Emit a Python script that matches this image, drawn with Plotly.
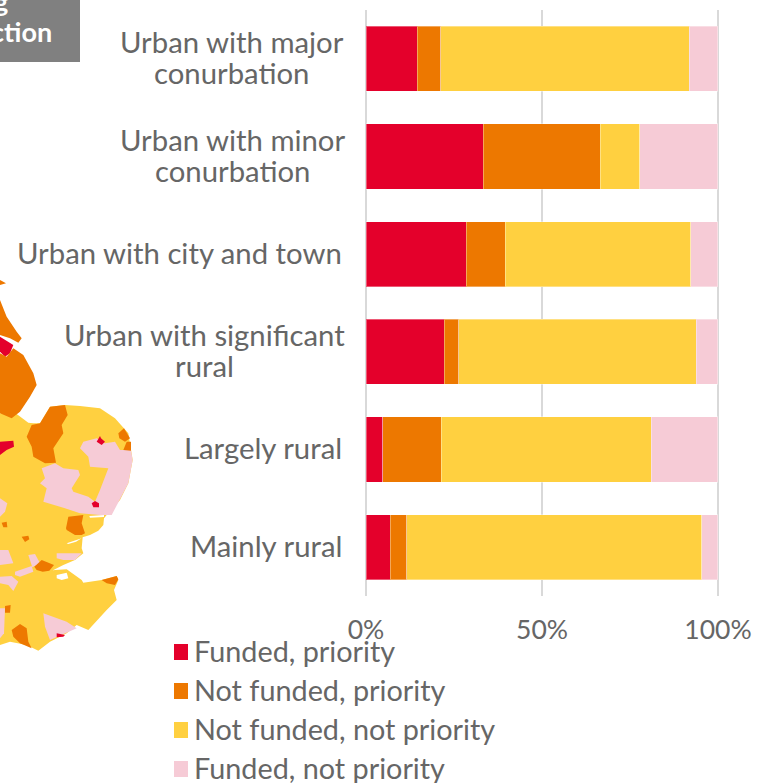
import plotly.graph_objects as go

categories = ["Urban with major conurbation", "Urban with minor conurbation", "Urban with city and town",
              "Urban with significant rural", "Largely rural", "Mainly rural"]
category_lines = [["Urban with major", "conurbation"], ["Urban with minor", "conurbation"], ["Urban with city and town"],
                  ["Urban with significant", "rural"], ["Largely rural"], ["Mainly rural"]]
funded_priority = [14.5, 33.3, 28.5, 22.2, 4.7, 6.9]
not_funded_priority = [6.8, 33.3, 11.0, 4.2, 16.7, 4.7]
not_funded_not_priority = [70.5, 11.1, 52.8, 67.4, 59.6, 83.8]
funded_not_priority = [8.2, 22.3, 7.7, 6.2, 19.0, 4.6]
series_names = ["Funded, priority", "Not funded, priority", "Not funded, not priority", "Funded, not priority"]
tick_values = [0, 50, 100]
tick_labels = ["0%", "50%", "100%"]

RED, ORANGE, YELLOW, PINK = "#E4002B", "#ED7800", "#FFD040", "#F6CBD6"
TEXT = "#666666"
FONT = "Lato"

# Map regions (approximate outlines, in map units)
map_regions = [
    (YELLOW, [(0,430),(50,432),(85,458),(100,460),(120,460),(150,410),(195,405),(240,408),(300,415),(345,445),(385,490),(393,540),(398,570),(385,640),(360,690),(320,735),(312,745),(310,765),(295,782),(270,795),(248,802),(245,835),(250,850),(225,870),(190,885),(150,905),(130,906),(165,900),(200,898),(245,930),(250,938),(305,930),(350,918),(355,930),(342,960),(350,990),(320,1020),(265,1080),(230,1065),(200,1090),(150,1115),(115,1142),(80,1125),(30,1115),(0,1125)]),
    ("#FFFFFF", [(200,820),(245,805),(228,815),(205,822)]),
    ("#FFFFFF", [(170,915),(200,908),(205,925),(185,930),(170,925)]),
    ("#FFFFFF", [(318,690),(326,690),(334,728),(328,732)]),
    ("#FFFFFF", [(268,738),(312,735),(312,741),(270,743)]),
    (ORANGE, [(0,30),(18,40),(0,45)]),
    (ORANGE, [(0,90),(20,140),(50,185),(65,205),(55,218),(30,205),(0,195)]),
    (RED, [(0,200),(40,225),(30,250),(15,260),(0,245)]),
    (ORANGE, [(0,250),(20,260),(40,235),(70,255),(100,310),(110,345),(90,380),(60,425),(35,445),(0,430)]),
    (ORANGE, [(150,410),(195,405),(203,435),(185,465),(190,490),(160,535),(168,578),(135,580),(100,560),(95,530),(80,500),(95,465),(120,460)]),
    (RED, [(0,515),(40,512),(42,530),(20,540),(0,555)]),
    (PINK, [(240,535),(250,515),(290,505),(315,520),(345,515),(360,540),(393,540),(398,570),(385,640),(360,690),(335,735),(300,735),(240,730),(195,715),(130,695),(140,655),(120,640),(135,625),(125,595),(165,580),(190,595),(235,600),(240,615),(215,655),(220,665),(265,680),(285,695),(300,660),(325,595),(270,590),(265,560)]),
    (ORANGE, [(355,490),(372,475),(390,505),(375,515),(358,505)]),
    (ORANGE, [(370,540),(380,515),(393,515),(393,542)]),
    (RED, [(290,515),(300,498),(303,505),(315,515),(305,525)]),
    (RED, [(275,700),(285,693),(297,700),(297,712),(280,712)]),
    (ORANGE, [(205,740),(250,735),(245,760),(255,790),(245,795),(225,795),(200,780),(198,775)]),
    (ORANGE, [(5,758),(20,755),(22,772),(10,772)]),
    (ORANGE, [(65,800),(85,797),(88,808),(75,816)]),
    (PINK, [(0,685),(22,700),(15,725),(0,740)]),
    (PINK, [(0,840),(25,840),(40,880),(0,885)]),
    (PINK, [(85,855),(105,852),(120,880),(97,892)]),
    (PINK, [(45,905),(95,888),(100,905),(60,920),(45,915)]),
    (PINK, [(170,850),(245,850),(225,870),(190,870),(170,865)]),
    (ORANGE, [(103,890),(125,870),(162,885),(148,902),(128,905),(110,900)]),
    (PINK, [(0,920),(35,918),(55,935),(40,963),(25,945),(0,940)]),
    (PINK, [(0,1015),(15,1015),(12,1090),(0,1105)]),
    (ORANGE, [(15,1008),(32,1005),(30,1028),(15,1028)]),
    (ORANGE, [(35,1080),(60,1062),(80,1075),(85,1115),(95,1135),(60,1120),(40,1100)]),
    (PINK, [(130,1030),(200,1055),(230,1075),(195,1090),(150,1110),(135,1070)]),
    (RED, [(170,1090),(195,1095),(190,1100),(170,1102)]),
    (ORANGE, [(305,930),(350,918),(355,928),(345,945),(320,940)]),
]

W, H = 768, 783
fig = go.Figure()

for color, pts in map_regions:
    fig.add_trace(go.Scatter(x=[p[0] for p in pts] + [pts[0][0]], y=[p[1] for p in pts] + [pts[0][1]],
                             mode="lines", fill="toself", fillcolor=color, line=dict(width=0),
                             hoverinfo="skip", showlegend=False, xaxis="x2", yaxis="y2"))

series_values = [funded_priority, not_funded_priority, not_funded_not_priority, funded_not_priority]
series_colors = [RED, ORANGE, YELLOW, PINK]
for name, vals, color in zip(series_names, series_values, series_colors):
    fig.add_trace(go.Bar(y=categories, x=vals, name=name, orientation="h",
                         marker=dict(color=color, line=dict(width=1, color="rgba(255,255,255,0.35)")), showlegend=False))

annotations = []
LINE_GAP = 31
two_line_center = [231.5, 232.5, None, 204, None, None]
for cat, lines, cx in zip(categories, category_lines, two_line_center):
    for i, line in enumerate(lines):
        shift = (i - (len(lines) - 1) / 2) * LINE_GAP
        annotations.append(dict(text=line, xref="paper", yref="y", y=cat,
                                x=(cx if cx else 344) / W, xanchor="center" if cx else "right", yanchor="middle",
                                yshift=-shift + 2, showarrow=False, font=dict(size=29.3, family=FONT, color=TEXT)))

shapes = [dict(type="rect", xref="paper", yref="paper", x0=0, x1=80/W, y0=1-62/H, y1=1, fillcolor="#808080", line_width=0, layer="below")]
for i, (name, color) in enumerate(zip(series_names, series_colors)):
    yc = 652 + 39 * i
    shapes.append(dict(type="rect", xref="paper", yref="paper", x0=174/W, x1=188/W, y0=1-(yc+8)/H, y1=1-(yc-8)/H,
                       fillcolor=color, line_width=0))
    annotations.append(dict(text=name, xref="paper", yref="paper", x=192/W, y=1-(yc-1)/H, xanchor="left", yanchor="middle",
                            showarrow=False, font=dict(size=28.8, family=FONT, color=TEXT)))

annotations.append(dict(text="<b>ction</b>", xref="paper", yref="paper", x=54/W, y=1-32/H, xanchor="right", yanchor="middle",
                        showarrow=False, font=dict(size=27, family=FONT, color="white")))
annotations.append(dict(text="<b>g</b>", xref="paper", yref="paper", x=10/W, y=1-1/H, xanchor="right", yanchor="middle",
                        showarrow=False, font=dict(size=27, family=FONT, color="white")))

fig.update_layout(
    width=W, height=H, autosize=False, margin=dict(l=0, r=0, t=0, b=0, pad=0),
    paper_bgcolor="white", plot_bgcolor="rgba(0,0,0,0)",
    barmode="stack", bargap=0.334, template=None, showlegend=False,
    font=dict(family=FONT, color=TEXT, size=28),
    xaxis=dict(domain=[363.9/W, 720.1/W], range=[-0.6, 100.6], tickvals=tick_values, ticktext=tick_labels, automargin=False,
               showgrid=True, gridcolor="#D9D9D9", gridwidth=2, zeroline=False, showline=False,
               ticks="", tickfont=dict(size=26.5, family=FONT, color=TEXT), anchor="y", ticklabelstandoff=15),
    yaxis=dict(domain=[1-596/H, 1-10/H], autorange="reversed", categoryorder="array", categoryarray=categories,
               showline=False, ticks="", showgrid=False, showticklabels=False, zeroline=False, automargin=False, anchor="x"),
    xaxis2=dict(domain=[0, 150/W], range=[0, 450], visible=False, anchor="y2", fixedrange=True, automargin=False),
    yaxis2=dict(domain=[1-670/H, 1-270/H], range=[1200, 0], visible=False, anchor="x2", fixedrange=True, automargin=False),
    shapes=shapes, annotations=annotations,
)
fig.write_html("out.html", config={"displayModeBar": False},
               post_script="document.body.style.margin='0';document.documentElement.style.overflow='hidden';")
